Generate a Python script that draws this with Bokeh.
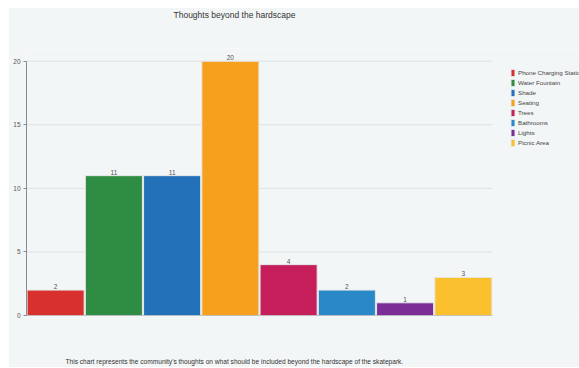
from bokeh.plotting import figure
from bokeh.models import (ColumnDataSource, Range1d, Title, FixedTicker,
                          Legend, LegendItem)
from bokeh.embed import file_html
from bokeh.resources import INLINE

# Community survey: amenities wanted beyond the hardscape
categories = ["Phone Charging Station", "Water Fountain", "Shade", "Seating",
              "Trees", "Bathrooms", "Lights", "Picnic Area"]
votes = [2, 11, 11, 20, 4, 2, 1, 3]
bar_colors = ["#d7302f", "#2f8c43", "#2371b8", "#f7a01e",
              "#c51e5b", "#2988c8", "#7a2e96", "#fbc02d"]
y_ticks = [0, 5, 10, 15, 20]

BG = "#f3f6f7"
FONT = "Liberation Sans"

n = len(categories)
xpos = list(range(n))
src = ColumnDataSource(dict(
    x=xpos,
    cat=categories,
    val=votes,
    color=bar_colors,
    label=[str(v) for v in votes],
))

# the plot area runs on to the right edge so the legend sits beside the bars
p = figure(
    width=571, height=360,
    x_range=Range1d(-0.5, 8.994),
    y_range=Range1d(0, 21),
    x_axis_location=None,
    output_backend="svg", toolbar_location=None,
    background_fill_color=BG, border_fill_color=BG,
    outline_line_color=None,
    min_border_left=18, min_border_right=0,
    min_border_top=41, min_border_bottom=52,
    margin=(7, 0, 0, 8),
)

# spacer between the plot area and the heading
p.add_layout(Title(text=" ", text_font_size="1px", standoff=26), "above")
p.title.text = "Thoughts beyond the hardscape"
p.title.text_font = FONT
p.title.text_font_size = "8.5px"
p.title.text_font_style = "normal"
p.title.text_color = "#333333"
p.title.align = "left"
p.title.offset = 147
p.title.standoff = 0

# spacer and caption underneath the plot area
p.add_layout(Title(text=" ", text_font_size="1px", standoff=34), "below")
caption = Title(
    text="This chart represents the community's thoughts on what should be "
         "included beyond the hardscape of the skatepark.",
    text_font=FONT, text_font_size="6.6px", text_font_style="normal",
    text_color="#333333", align="left", offset=39, standoff=6,
)
p.add_layout(caption, "below")

# horizontal grid lines across the bar area only
grid_y = y_ticks[1:]
p.segment(x0=[-0.5] * len(grid_y), x1=[n - 0.5] * len(grid_y),
          y0=grid_y, y1=grid_y, line_color="#dde1e4", line_width=1)

bars = p.vbar(x="x", top="val", width=0.98, source=src,
              fill_color="color", line_color="#e6e9eb", line_width=1)

p.text(x="x", y="val", text="label", source=src,
       text_align="center", text_baseline="bottom", y_offset=-1,
       text_font_size="6.5px", text_color="#555555",
       text_font={"value": FONT})

# baseline along zero
p.segment(x0=[-0.5], x1=[n - 0.5], y0=[0], y1=[0],
          line_color="#9a9a9a", line_width=1)

ax = p.yaxis[0]
ax.ticker = FixedTicker(ticks=y_ticks)
ax.bounds = (0, 20)
ax.axis_line_color = "#8a8a8a"
ax.major_tick_line_color = "#8a8a8a"
ax.major_tick_out = 3
ax.major_tick_in = 0
ax.minor_tick_line_color = None
ax.major_label_standoff = 3
ax.major_label_text_font = FONT
ax.major_label_text_font_size = "6.5px"
ax.major_label_text_color = "#555555"

p.xgrid.visible = False
p.ygrid.visible = False

leg = Legend(
    items=[LegendItem(label=c, renderers=[bars], index=i)
           for i, c in enumerate(categories)],
    location=(484, 168),
    orientation="vertical",
    glyph_width=5, glyph_height=9, label_height=9,
    spacing=1, padding=0, margin=0, label_standoff=3,
    label_text_font=FONT, label_text_font_size="6.2px",
    label_text_color="#444444",
    background_fill_alpha=0, border_line_color=None,
)
p.add_layout(leg)

open("out.html", "w").write(file_html(p, INLINE))
